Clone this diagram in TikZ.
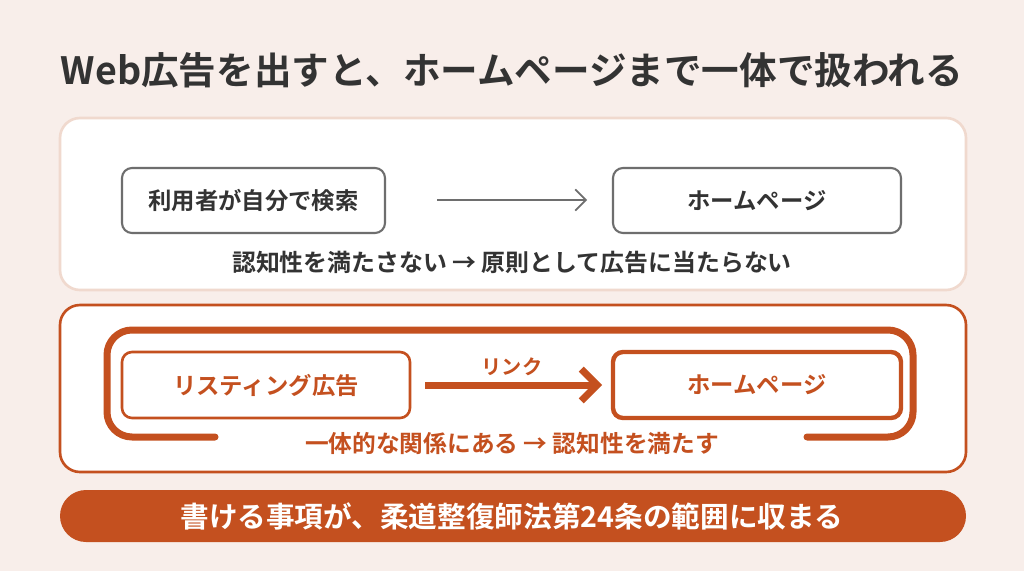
\documentclass[tikz,border=0pt]{standalone}
\usepackage{fontspec}
\setmainfont{Noto Sans CJK JP}
\newfontfamily\jpbold{Noto Sans CJK JP Bold}
\usetikzlibrary{arrows.meta}
\definecolor{bgpink}{HTML}{F8EEEA}
\definecolor{rust}{HTML}{C4501F}
\definecolor{textgrey}{HTML}{333333}
\definecolor{boxgrey}{HTML}{6E6E6E}
\definecolor{peach}{HTML}{F0D9CE}
\tikzset{
  panel/.style={fill=white, rounded corners=20*0.02cm, line width=1.5pt},
  greybox/.style={draw=boxgrey, line width=1.2pt, rounded corners=10*0.02cm, fill=white},
  rustbox/.style={draw=rust, rounded corners=10*0.02cm, fill=white},
  lbl/.style={font=\jpbold\fontsize{13.3}{15}\selectfont}
}
\begin{document}
\begin{tikzpicture}[x=0.02cm, y=-0.02cm]

    % Background
    \fill[bgpink] (0,0) rectangle (1024,571);
    \useasboundingbox (0,0) rectangle (1024,571);

    % Title
    \node[font=\jpbold\fontsize{21.4}{25}\selectfont, text=textgrey] (title) at (512,70) {Web広告を出すと、ホームページまで一体で扱われる};

    % Upper panel
    \draw[panel, draw=peach] (60,118) rectangle (966,290);
    \draw[greybox] (122,168) rectangle (385,233);
    \node[lbl, text=textgrey] (search) at (253.5,200.5) {利用者が自分で検索};
    \draw[greybox] (613,168) rectangle (901,233);
    \node[lbl, text=textgrey] (home) at (757,200.5) {ホームページ};
    \coordinate (a1) at (437,200);
    \coordinate (a2) at (587,200);
    \draw[boxgrey, line width=1pt, -{Straight Barb[length=6pt]}] (a1) -- (a2);
    \node[font=\jpbold\fontsize{13.6}{15}\selectfont, text=textgrey] (note1) at (512,262) {認知性を満たさない → 原則として広告に当たらない};

    % Lower panel
    \draw[panel, draw=rust] (60,305) rectangle (966,472);
    \draw[rust, line width=7*0.02cm, rounded corners=25*0.02cm, line cap=round]
        (215,437) -- (107,437) -- (107,330) -- (913,330) -- (913,437) -- (807,437);
    \draw[rustbox, line width=1.5pt] (122,352) rectangle (410,418);
    \node[lbl, text=rust] (listing) at (266,385) {リスティング広告};
    \draw[rustbox, line width=2.5pt] (613,352) rectangle (901,418);
    \node[lbl, text=rust] (home2) at (757,385) {ホームページ};
    \coordinate (b1) at (425,385);
    \coordinate (b2) at (602,385);
    \draw[rust, line width=7*0.02cm, -{Straight Barb[length=9pt, line width=7*0.02cm]}] (b1) -- (b2);
    \node[font=\jpbold\fontsize{11.5}{13}\selectfont, text=rust] (link) at (512,367) {リンク};
    \node[font=\jpbold\fontsize{13.5}{15}\selectfont, text=rust] (note2) at (512,443) {一体的な関係にある → 認知性を満たす};

    % Bottom banner
    \fill[rust, rounded corners=26*0.02cm] (60,490) rectangle (966,542);
    \node[font=\jpbold\fontsize{16.3}{18}\selectfont, text=white] (banner) at (512,516) {書ける事項が、柔道整復師法第24条の範囲に収まる};

\end{tikzpicture}
\end{document}
